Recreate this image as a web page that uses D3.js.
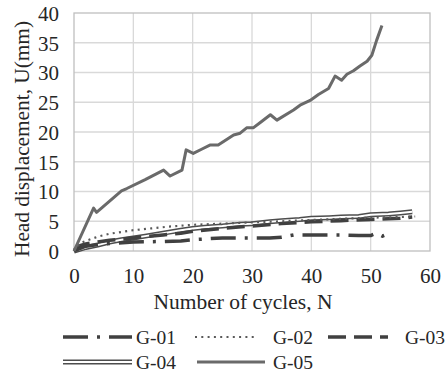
<!DOCTYPE html>
<html>
<head>
<meta charset="utf-8">
<script src="https://cdn.jsdelivr.net/npm/d3@7"></script>
<style>
body { margin: 0; background: #fff; }
text { font-family: "Liberation Serif", "Times New Roman", serif; fill: #262626; }
</style>
</head>
<body>
<div id="chart"></div>
<script>
// data
var g01x = [0, 2, 5, 10, 15, 18, 20, 25, 30, 33, 35, 37, 40, 45, 48, 50, 51, 52, 53];
var g01y = [0, 0.8, 1.2, 1.5, 1.6, 1.7, 1.9, 2.2, 2.2, 2.2, 2.3, 2.7, 2.7, 2.7, 2.6, 2.6, 3.0, 2.5, 2.9];

var g02x = [0, 1, 2, 4, 6, 8, 10, 13, 16, 20, 25, 30, 35, 40, 45, 50, 55, 57.5];
var g02y = [0, 1.3, 1.7, 2.4, 2.9, 3.2, 3.5, 3.8, 4.1, 4.4, 4.6, 4.8, 5.0, 5.2, 5.4, 5.6, 5.7, 5.8];

var g03x = [0, 1, 2, 4, 6, 8, 10, 12, 15, 18, 20, 25, 30, 35, 40, 45, 50, 55, 57];
var g03y = [0, 0.9, 1.2, 1.5, 1.8, 2.0, 2.2, 2.4, 2.7, 3.0, 3.3, 3.8, 4.2, 4.6, 4.9, 5.1, 5.3, 5.5, 5.7];

var g04x = [0, 2, 4, 6, 8, 10, 12, 15, 18, 20, 22, 25, 28, 30, 33, 35, 38, 40, 43, 45, 48, 50, 53, 55, 57];
var g04y = [0, 0.6, 1.0, 1.5, 1.9, 2.2, 2.5, 3.0, 3.5, 3.8, 4.0, 4.2, 4.5, 4.6, 4.9, 5.1, 5.3, 5.5, 5.6, 5.7, 5.8, 6.1, 6.2, 6.4, 6.6];

var g05x = [0, 3.3, 3.8, 8.0, 8.9, 12, 15.1, 16.2, 18.2, 18.9, 20.1, 21.5, 22.9, 24.3, 26.9, 28, 29.1, 30.2, 31.4, 33.1, 34.2, 37.0, 38.1, 39.8, 41.2, 42.9, 44.0, 45.1, 46.0, 47.1, 48.2, 49.4, 50.2, 51.0, 51.9];
var g05y = [0, 7.2, 6.5, 10.1, 10.5, 12.0, 13.6, 12.6, 13.6, 17.0, 16.4, 17.1, 17.8, 17.8, 19.5, 19.8, 20.7, 20.7, 21.6, 22.9, 22.0, 23.7, 24.5, 25.3, 26.3, 27.3, 29.4, 28.7, 29.7, 30.3, 31.1, 31.9, 32.9, 35.4, 37.9];

var seriesNames = ["G-01", "G-02", "G-03", "G-04", "G-05"];
var xTicks = [0, 10, 20, 30, 40, 50, 60];
var yTicks = [0, 5, 10, 15, 20, 25, 30, 35, 40];

var W = 445, H = 374;
var svg = d3.select("#chart").append("svg").attr("width", W).attr("height", H);

var x = d3.scaleLinear().domain([0, 60]).range([74, 430]);
var y = d3.scaleLinear().domain([0, 40]).range([251, 13]);

// gridlines
svg.append("g").selectAll("line.v").data(xTicks.slice(1, -1)).enter().append("line")
  .attr("x1", function (d) { return x(d); }).attr("x2", function (d) { return x(d); })
  .attr("y1", y(0)).attr("y2", y(40))
  .attr("stroke", "#d9d9d9").attr("stroke-width", 1.3);
svg.append("g").selectAll("line.h").data(yTicks.slice(1, -1)).enter().append("line")
  .attr("x1", x(0)).attr("x2", x(60))
  .attr("y1", function (d) { return y(d); }).attr("y2", function (d) { return y(d); })
  .attr("stroke", "#d9d9d9").attr("stroke-width", 1.3);
svg.append("rect")
  .attr("x", x(0)).attr("y", y(40))
  .attr("width", x(60) - x(0)).attr("height", y(0) - y(40))
  .attr("fill", "none").attr("stroke", "#bfbfbf").attr("stroke-width", 1.3);

// axes (labels only)
var xAxis = svg.append("g").attr("transform", "translate(0," + (y(0) + 13) + ")")
  .call(d3.axisBottom(x).tickValues(xTicks).tickSize(0).tickPadding(4));
var yAxis = svg.append("g").attr("transform", "translate(" + (x(0) - 15) + ",0)")
  .call(d3.axisLeft(y).tickValues(yTicks).tickSize(0).tickPadding(0));
[xAxis, yAxis].forEach(function (a) {
  a.select(".domain").remove();
  a.selectAll("text").attr("font-family", "Liberation Serif, serif").attr("font-size", 21).attr("fill", "#262626");
});
yAxis.selectAll("text").attr("dy", "0.35em");

svg.append("text")
  .attr("x", 243).attr("y", 309)
  .attr("text-anchor", "middle").attr("font-size", 20)
  .attr("textLength", 179).attr("lengthAdjust", "spacingAndGlyphs")
  .text("Number of cycles, N");
svg.append("text")
  .attr("transform", "translate(29,139) rotate(-90)")
  .attr("text-anchor", "middle").attr("font-size", 20)
  .attr("textLength", 236).attr("lengthAdjust", "spacingAndGlyphs")
  .text("Head displacement, U(mm)");

// lines
function pts(xs, ys) { return xs.map(function (d, i) { return [d, ys[i]]; }); }
var line = d3.line().x(function (d) { return x(d[0]); }).y(function (d) { return y(d[1]); });

var styles = {
  "G-01": [{ stroke: "#404040", width: 3.5, dash: "25,9,3,9" }],
  "G-02": [{ stroke: "#595959", width: 2.2, dash: "2,4.3" }],
  "G-03": [{ stroke: "#404040", width: 3.5, dash: "18,8" }],
  "G-04": [{ stroke: "#4d4d4d", width: 5, dash: null }, { stroke: "#ffffff", width: 2, dash: null }],
  "G-05": [{ stroke: "#6a6a6a", width: 3, dash: null }]
};
var data = {
  "G-01": pts(g01x, g01y),
  "G-02": pts(g02x, g02y),
  "G-03": pts(g03x, g03y),
  "G-04": pts(g04x, g04y),
  "G-05": pts(g05x, g05y)
};

["G-04", "G-03", "G-02", "G-01", "G-05"].forEach(function (name) {
  styles[name].forEach(function (s) {
    svg.append("path").datum(data[name])
      .attr("d", line)
      .attr("fill", "none")
      .attr("stroke", s.stroke).attr("stroke-width", s.width)
      .attr("stroke-dasharray", s.dash)
      .attr("stroke-linejoin", "round");
  });
});

// legend
var legendPos = [
  { x: 63, y: 337, w: 69 },
  { x: 195, y: 337, w: 63 },
  { x: 328, y: 337, w: 60 },
  { x: 63, y: 362, w: 69 },
  { x: 197, y: 362, w: 68 }
];
var labelX = [136, 273, 405, 136, 273];
seriesNames.forEach(function (name, i) {
  var p = legendPos[i];
  styles[name].forEach(function (s) {
    svg.append("line")
      .attr("x1", p.x).attr("x2", p.x + p.w)
      .attr("y1", p.y).attr("y2", p.y)
      .attr("stroke", s.stroke).attr("stroke-width", s.width)
      .attr("stroke-dasharray", s.dash);
  });
  svg.append("text")
    .attr("x", labelX[i]).attr("y", p.y).attr("dy", "0.35em")
    .attr("font-size", 19)
    .attr("textLength", 40).attr("lengthAdjust", "spacingAndGlyphs")
    .text(name);
});
</script>
</body>
</html>
